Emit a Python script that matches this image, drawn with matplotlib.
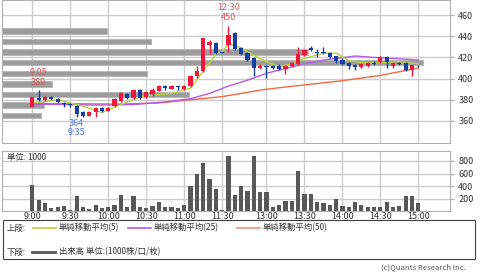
import matplotlib
matplotlib.use('Agg')
import matplotlib.pyplot as plt
import numpy as np
from matplotlib.patches import Rectangle
from matplotlib.lines import Line2D

plt.rcParams['font.family'] = ['Noto Sans CJK JP', 'DejaVu Sans']

# 5-minute bars, index 0 = 9:00 ... 30 = 11:30, 31 = 12:30 ... 61 = 15:00
opens  = [373, 382, 380, 383, 381, 377, 376, 374, 368, 365, 368, 372, 369, 374, 379, 385,
          382, 389, 383, 385, 388, 393, 390, 393, 390, 393, 402, 407, 432, 434, 425,
          432, 443, 429, 424, 419, 410, 412, 412, 412, 409, 412, 414, 422, 429, 424.5,
          425.5, 424.5, 421, 418, 415, 413, 411, 412, 415, 416, 420, 412, 415, 415, 408, 412]
highs  = [383, 389, 384, 384, 382, 378, 377, 375, 369, 369, 373, 373, 373, 382, 387, 386,
          390, 390, 388, 391, 394, 394, 394, 393, 394, 403, 412, 438, 436, 435, 425,
          450, 444, 430, 425, 420, 414, 413, 413, 414, 413, 416, 430, 428, 431, 427.5,
          430, 425, 421, 419, 416, 414, 415, 416, 417, 421, 421, 416, 416, 416, 413, 413]
lows   = [373, 379, 379, 380, 377, 373, 373, 364, 364, 365, 364, 368, 369, 373, 378, 381,
          381, 381, 382, 384, 388, 389, 390, 389, 389, 392, 401, 406, 423, 423, 424,
          425, 427, 422, 417, 402, 409, 401, 409, 408, 404, 411, 413, 421, 426, 420,
          423, 419, 415, 413, 409, 408, 410, 411, 413, 415, 410, 410, 413, 407, 402, 411]
closes = [383, 380, 383, 381, 378, 376, 375, 367, 365, 368, 372, 369, 372, 381, 386, 382,
          389, 382, 387, 389, 393, 391, 393, 392, 393, 402, 407, 438, 435, 424, 424.5,
          441, 428, 423, 417.5, 410, 412, 411, 410, 409, 412, 415, 423, 427, 427, 424,
          424, 420, 417, 414, 412, 411, 414, 415, 414, 420, 416, 415, 414, 408, 412.5, 411.5]
volume = [411, 171, 128, 43, 69, 80, 21, 235, 69, 27, 91, 48, 59, 91, 261, 69, 235, 69,
          43, 80, 149, 69, 69, 43, 91, 395, 597, 763, 517, 357, 21, 885, 261,
          400, 320, 875, 304, 304, 64, 91, 160, 160, 635, 267, 267, 149, 123, 91, 192,
          80, 69, 139, 101, 59, 69, 59, 139, 59, 80, 235, 235, 128]

# moving averages (bar index, value)
ma5_idx = [0, 4, 8, 11, 13, 17, 22, 25, 26, 29, 30, 31, 33, 35, 37, 39, 41, 43, 46, 48, 50, 52, 55, 58, 61]
ma5_val = [377, 380, 374, 368, 373, 383, 386, 391, 399, 423, 425, 433, 429, 422, 416, 411,
           414, 419, 424, 424, 417, 415, 415, 416, 414]
ma25_idx = [0, 10, 16, 21, 25, 28, 31, 34, 37, 41, 43, 46, 48, 51, 54, 57, 61]
ma25_val = [376, 375, 375.5, 378, 381, 386, 393, 398.5, 405, 411, 414, 417.5, 419, 421.3, 420, 419, 417.5]
ma50_idx = [0, 14, 20, 25, 30, 33, 37, 43, 49, 55, 61]
ma50_val = [376.5, 376, 377, 380, 383, 386, 390, 394, 398, 403, 410]

# volume by price band
band_price = [445, 435, 425, 415, 405, 395, 385, 375, 365]
band_vol = [840, 1190, 2450, 3370, 1160, 400, 1500, 340, 310]

tick_idx = [0, 6, 12, 18, 24, 30, 37, 43, 49, 55, 61]
tick_lbl = ['9:00', '9:30', '10:00', '10:30', '11:00', '11:30',
            '13:00', '13:30', '14:00', '14:30', '15:00']
price_ticks = [360, 380, 400, 420, 440, 460]
vol_ticks = [200, 400, 600, 800]

# marked high/low points
mark_high = [(1, '9:05'), (31, '12:30')]
mark_low = [(7, '9:35')]

RED = '#f0173f'
BLUE = '#163e9e'
GRID = '#cccccc'

W, H = 480, 272
def fx(px):
    return px / W
def fy(py):
    return 1 - py / H

fig = plt.figure(figsize=(4.8, 2.72), dpi=100)
ax = fig.add_axes([fx(2), fy(143), fx(448), 143 / H])
axv = fig.add_axes([fx(2), fy(211), fx(448), 60 / H], sharex=ax)

x = np.arange(len(opens))
o = np.array(opens); c = np.array(closes)
cols = [RED if cc > oo else BLUE for oo, cc in zip(o, c)]

# price panel
for p in price_ticks:
    ax.axhline(p, color=GRID, lw=1, zorder=0)
for t in tick_idx:
    ax.axvline(t, color=GRID, lw=1, zorder=0)

vmax = max(band_vol) / 0.94
for p, v in zip(band_price, band_vol):
    ax.add_patch(Rectangle((0, p - 2.6), v / vmax, 5.2, transform=ax.get_yaxis_transform(),
                           facecolor='#9c9c9c', edgecolor='#b4b4b4', lw=0.6, zorder=1))

ax.plot(ma50_idx, ma50_val, color='#f06a48', lw=1, zorder=2)
ax.plot(ma25_idx, ma25_val, color='#b45ae8', lw=1, zorder=2)
ax.plot(ma5_idx, ma5_val, color='#b8d43a', lw=1, zorder=2)

ax.vlines(x, lows, highs, colors=cols, lw=1, zorder=3)
ax.bar(x, np.maximum(np.abs(c - o), 0.8), bottom=np.minimum(o, c), width=0.66,
       color=cols, lw=0, zorder=4)

for i, t in mark_high:
    ax.annotate(f'{highs[i]:.0f}', (i, highs[i]), xytext=(0, 8), textcoords='offset pixels',
                ha='center', va='center', fontsize=6.5, color='#d65a5a')
    ax.annotate(t, (i, highs[i]), xytext=(0, 18), textcoords='offset pixels',
                ha='center', va='center', fontsize=6.5, color='#d65a5a')
for i, t in mark_low:
    ax.annotate(f'{lows[i]:.0f}', (i, lows[i]), xytext=(0, -7), textcoords='offset pixels',
                ha='center', va='center', fontsize=6.5, color='#4a78e0')
    ax.annotate(t, (i, lows[i]), xytext=(0, -16), textcoords='offset pixels',
                ha='center', va='center', fontsize=6.5, color='#4a78e0')

ax.set_xlim(-4.79, 66.0)
ax.set_ylim(339.2, 474.2)
ax.yaxis.tick_right()
ax.set_yticks(price_ticks)
ax.tick_params(axis='y', length=3, color='#b0b0b0', labelsize=6.5, pad=3, labelcolor='#333333')
ax.tick_params(axis='x', bottom=False, labelbottom=False)
for s in ax.spines.values():
    s.set_color('#b0b0b0')

# volume panel
for p in vol_ticks:
    axv.axhline(p, color=GRID, lw=1, zorder=0)
for t in tick_idx:
    axv.axvline(t, color=GRID, lw=1, zorder=0)
axv.bar(x, volume, width=0.66, color='#585858', zorder=2)
axv.set_ylim(0, 960)
axv.yaxis.tick_right()
axv.set_yticks(vol_ticks)
axv.set_xticks(tick_idx)
axv.set_xticklabels(tick_lbl)
axv.tick_params(axis='y', length=3, color='#b0b0b0', labelsize=6.5, pad=3, labelcolor='#333333')
axv.tick_params(axis='x', length=0, labelsize=6.5, pad=1, labelcolor='#333333')
for s in axv.spines.values():
    s.set_color('#b0b0b0')
axv.text(0.012, 0.96, '単位: 1000', transform=axv.transAxes, ha='left', va='top',
         fontsize=6, color='#333333')

# legend box
fig.patches.append(Rectangle((fx(3), fy(259)), fx(472), 39 / H, transform=fig.transFigure,
                             fill=False, edgecolor='#404040', lw=0.8))
fig.text(fx(7), fy(228), '上段:', fontsize=6, va='center', color='#333333')
items = [(33, '#b8d43a', '単純移動平均(5)'), (128, '#b45ae8', '単純移動平均(25)'),
         (237, '#f4907a', '単純移動平均(50)')]
for px, col, lbl in items:
    fig.lines.append(Line2D([fx(px), fx(px + 23)], [fy(228)] * 2, color=col, lw=1.2,
                            transform=fig.transFigure))
    fig.text(fx(px + 26), fy(228), lbl, fontsize=6, va='center', color='#333333')
fig.text(fx(7), fy(252), '下段:', fontsize=6, va='center', color='#333333')
fig.lines.append(Line2D([fx(32), fx(55)], [fy(252)] * 2, color='#555555', lw=2,
                        transform=fig.transFigure))
fig.text(fx(59), fy(252), '出来高 単位:(1000株/口/枚)', fontsize=6, va='center', color='#333333')

fig.text(fx(466), fy(267.5), '(c)Quants Research Inc.', fontsize=5.5, ha='right', va='center',
         color='#555555')

fig.savefig('out.png', dpi=100)
